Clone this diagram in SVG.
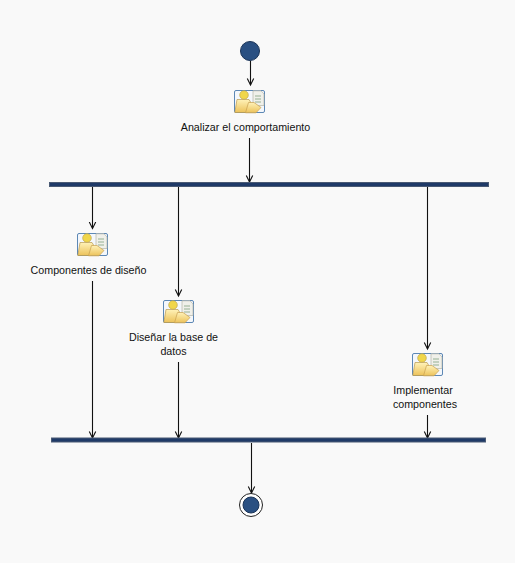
<svg xmlns="http://www.w3.org/2000/svg" width="515" height="563" viewBox="0 0 515 563">
<style>
.t{font-family:"Liberation Sans",Arial,sans-serif;font-size:10.7px;fill:#111;text-anchor:middle}
.c{fill:none;stroke:#111;stroke-width:1.1}
.bar{fill:#1f3a68;stroke:#4a5a74;stroke-width:1}
.dot{fill:#2a5082;stroke:#1c3558;stroke-width:1}
</style>
<defs>
<marker id="a" markerWidth="10" markerHeight="10" refX="7" refY="4" orient="auto" markerUnits="userSpaceOnUse"><path d="M0.500 0.800L7 4L0.500 7.200" fill="none" stroke="#111" stroke-width="1.100"/></marker>
<linearGradient id="g" x1="0" y1="0" x2="0" y2="1"><stop offset="0" stop-color="#fff2b8"/><stop offset="1" stop-color="#ecc25a"/></linearGradient>
<symbol id="ic" width="32" height="24" viewBox="0 0 32 24">
<rect x="0.500" y="0.500" width="30" height="22" rx="1.500" fill="#f4f7fb" stroke="#5d88b5"/>
<path d="M19 0.800H27L30 4V15.500H19Z" fill="#f0f0ea" stroke="#b5b5a8" stroke-width="0.700"/>
<path d="M21 6H27M21 9H27M21 12H27" stroke="#8aa88a" stroke-width="0.900"/>
<circle cx="10" cy="5" r="4.300" fill="#f0d64a" stroke="#c0a850" stroke-width="0.700"/>
<path d="M3 9.500H15L16.500 12L13 22.500H0.800Z" fill="url(#g)" stroke="#b89a50" stroke-width="0.700"/>
<path d="M14.500 12.500H20L27 17.500L22 22.800H11.500Z" fill="url(#g)" stroke="#c8a050" stroke-width="0.700"/>
</symbol>
</defs>
<rect width="515" height="563" fill="#f9f9f9"/>
<g id="connectors">
<path class="c" marker-end="url(#a)" d="M250.500 61V85"/>
<path class="c" marker-end="url(#a)" d="M249.500 138V182"/>
<path class="c" marker-end="url(#a)" d="M92.500 187V228.500"/>
<path class="c" marker-end="url(#a)" d="M178.500 187V296"/>
<path class="c" marker-end="url(#a)" d="M427.500 187V349"/>
<path class="c" marker-end="url(#a)" d="M92.500 281V438"/>
<path class="c" marker-end="url(#a)" d="M178.500 362V438"/>
<path class="c" marker-end="url(#a)" d="M427.500 415V438"/>
<path class="c" marker-end="url(#a)" d="M251.500 443V493"/>
</g>
<g id="start"><circle class="dot" cx="250" cy="51" r="9.500"/></g>
<g id="analizar"><use href="#ic" x="234" y="90"/><text class="t" x="245.500" y="131">Analizar el comportamiento</text></g>
<g id="fork"><rect class="bar" x="49.500" y="182.500" width="439" height="4"/></g>
<g id="componentes"><use href="#ic" x="77" y="233"/><text class="t" x="88.500" y="274">Componentes de diseño</text></g>
<g id="disenar"><use href="#ic" x="163" y="300"/><text class="t" x="173.500" y="341">Diseñar la base de</text><text class="t" x="173.500" y="355">datos</text></g>
<g id="implementar"><use href="#ic" x="412" y="353"/><text class="t" x="423" y="394">Implementar</text><text class="t" x="425" y="408">componentes</text></g>
<g id="join"><rect class="bar" x="51.500" y="438" width="434" height="4"/></g>
<g id="end"><circle cx="251" cy="505" r="11.500" fill="#fff" stroke="#222" stroke-width="1"/><circle class="dot" cx="251" cy="505" r="8"/></g>
</svg>
